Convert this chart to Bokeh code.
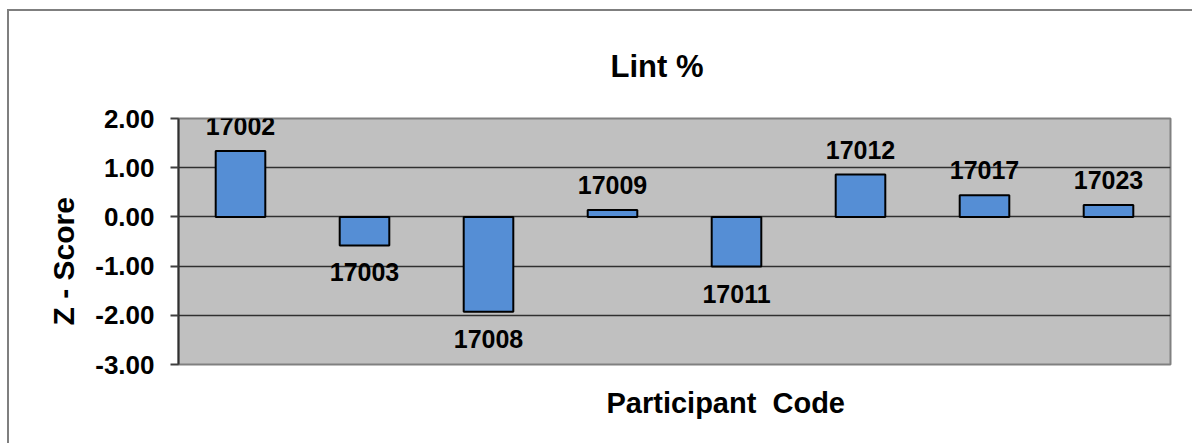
from bokeh.plotting import figure
from bokeh.models import (Range1d, FixedTicker, NumeralTickFormatter, Title,
                          ColumnDataSource)
from bokeh.core.properties import value
from bokeh.embed import file_html
from bokeh.resources import INLINE

# ---- data ----
codes = ["17002", "17003", "17008", "17009", "17011", "17012", "17017", "17023"]
z_scores = [1.34, -0.58, -1.93, 0.14, -1.01, 0.86, 0.44, 0.24]
y_ticks = [-3, -2, -1, 0, 1, 2]
title_text = "Lint %"
x_label = "Participant\u00a0\u00a0Code"
y_label = "Z - Score"

FONT = "Liberation Sans"
BAR_COLOR = "#558ED5"

# figure placed 9px / 11px in from the picture corner (outer chart border)
OFF_X, OFF_Y = 9, 11
W, H = 1194 - OFF_X, 445 - OFF_Y
ML, MR, MT, MB = 178 - OFF_X, W - (1170 - OFF_X), 117 - OFF_Y, H - (364 - OFF_Y)

p = figure(width=W, height=H, output_backend="svg", toolbar_location=None,
           title=None, x_axis_type=None,
           x_range=Range1d(0, len(codes)), y_range=Range1d(-3, 2),
           min_border_left=ML, min_border_right=MR, min_border_top=MT,
           min_border_bottom=MB, background_fill_color="#C0C0C0",
           border_fill_color="white")
p.styles = {"margin-left": f"{OFF_X}px", "margin-top": f"{OFF_Y}px",
            "box-shadow": "-2px -2px 0px 0px #7F7F7F"}

p.outline_line_color = "#808080"
p.outline_line_width = 2

p.yaxis.ticker = FixedTicker(ticks=y_ticks)
p.yaxis.formatter = NumeralTickFormatter(format="0.00")
p.yaxis.major_label_text_font = FONT
p.yaxis.major_label_text_font_style = "bold"
p.yaxis.major_label_text_font_size = "26px"
p.yaxis.major_label_text_color = "black"
p.yaxis.major_label_standoff = 16
p.yaxis.major_tick_out = 8
p.yaxis.major_tick_in = 0
p.yaxis.major_tick_line_color = "#404040"
p.yaxis.major_tick_line_width = 2
p.yaxis.minor_tick_line_color = None
p.yaxis.axis_line_color = "#303030"
p.yaxis.axis_line_width = 2

p.ygrid.ticker = FixedTicker(ticks=y_ticks)
p.ygrid.grid_line_color = "#303030"
p.ygrid.grid_line_width = 1.5

centers = [i + 0.5 for i in range(len(codes))]
label_offsets = [-25 if v >= 0 else 27 for v in z_scores]
src = ColumnDataSource(dict(x=centers, top=z_scores, code=codes, off=label_offsets))

p.vbar(x="x", top="top", bottom=0, width=0.4, source=src,
       fill_color=BAR_COLOR, line_color="black", line_width=2)

p.text(x="x", y="top", text="code", source=src, y_offset="off",
       text_font=value(FONT), text_font_style="bold", text_font_size="25px",
       text_align="center", text_baseline="middle", text_color="black")

# chart title and axis titles
p.add_layout(Title(text=title_text, align="left", offset=432, standoff=70,
                   text_font=FONT, text_font_style="bold", text_font_size="31px",
                   text_color="black"), "above")
p.add_layout(Title(text=x_label, align="left", offset=428, standoff=40,
                   text_font=FONT, text_font_style="bold", text_font_size="29px",
                   text_color="black"), "below")
p.add_layout(Title(text=y_label, align="left", offset=39, standoff=26,
                   text_font=FONT, text_font_style="bold", text_font_size="30px",
                   text_color="black"), "left")

open("out.html", "w").write(file_html(p, INLINE))
